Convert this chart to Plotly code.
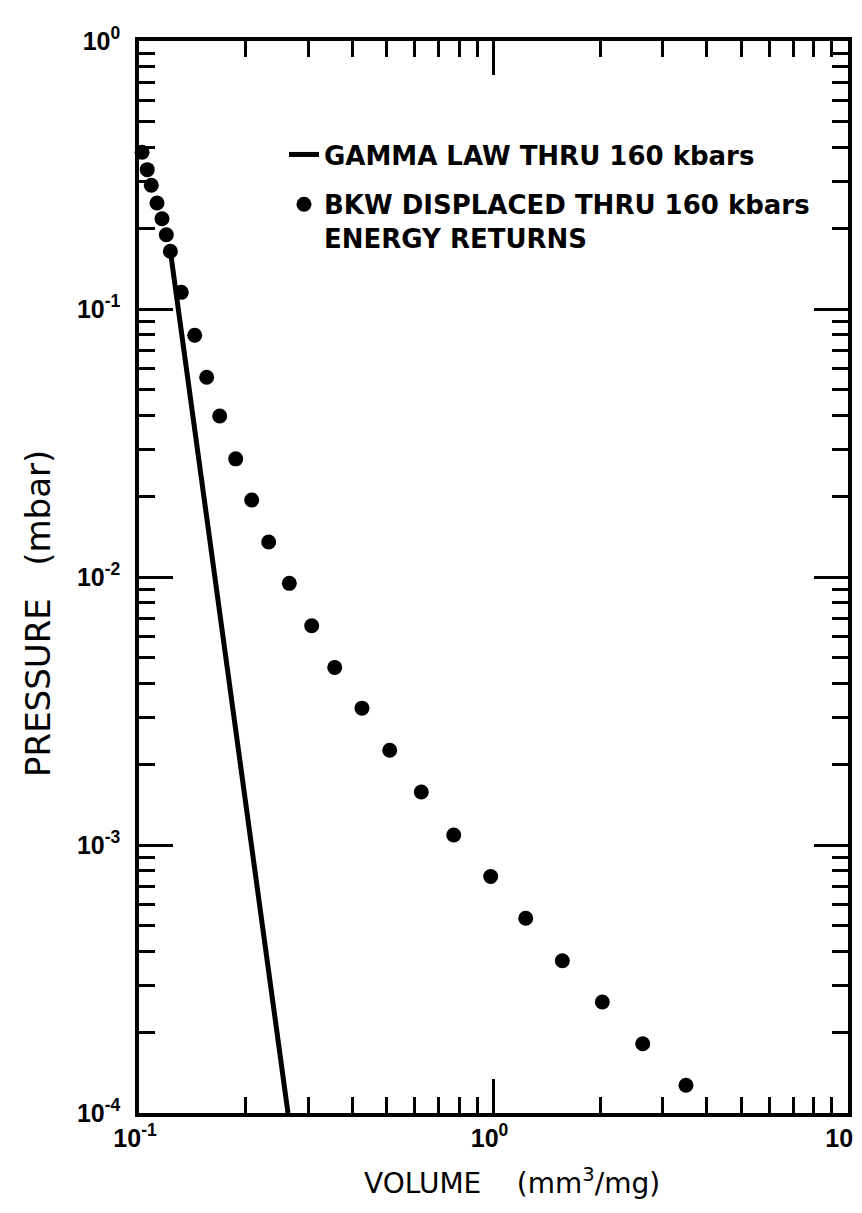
import plotly.graph_objects as go

# Gamma law line (volume mm^3/mg, pressure mbar)
gamma_volume = [0.1226, 0.1763, 0.2632]
gamma_pressure = [0.1646, 0.00499, 1.0e-4]

# BKW displaced, energy returns (points)
bkw_volume = [0.1020, 0.1055, 0.1083, 0.1124, 0.1161, 0.1194, 0.1226, 0.1316,
              0.1436, 0.1552, 0.1689, 0.1874, 0.2079, 0.2322, 0.2655, 0.3070,
              0.3565, 0.4256, 0.5096, 0.6256, 0.7723, 0.9820, 1.2328, 1.5637,
              2.0275, 2.636, 3.491]
bkw_pressure = [0.3843, 0.3311, 0.2894, 0.2486, 0.2172, 0.1893, 0.1642, 0.1154,
                0.0798, 0.0556, 0.0399, 0.0276, 0.01938, 0.01351, 0.00947, 0.00658,
                0.00460, 0.00324, 0.002257, 0.001576, 0.001090, 0.000763, 0.000533,
                0.000370, 0.0002596, 0.0001814, 0.0001269]

x_tickvals = [0.1, 1, 10]
x_ticktext = ["10<sup>-1</sup>", "10<sup>0</sup>", "10<sup>1</sup>"]
y_tickvals = [1e-4, 1e-3, 1e-2, 1e-1, 1]
y_ticktext = ["10<sup>-4</sup>", "10<sup>-3</sup>", "10<sup>-2</sup>", "10<sup>-1</sup>", "10<sup>0</sup>"]

x_title = "VOLUME&nbsp;&nbsp;&nbsp;&nbsp;(mm<sup>3</sup>/mg)"
y_title = "PRESSURE&nbsp;&nbsp;&nbsp;(mbar)"

x_minor = [m * 10.0 ** e for e in (-1, 0) for m in range(2, 10)]
y_minor = [m * 10.0 ** e for e in (-4, -3, -2, -1) for m in range(2, 10)]

TICK_FONT = "Liberation Sans, Arial, sans-serif"
TEXT_FONT = "DejaVu Sans, sans-serif"

fig = go.Figure()
fig.add_trace(go.Scatter(
    x=gamma_volume, y=gamma_pressure, mode="lines",
    line=dict(color="black", width=5),
    name="GAMMA LAW THRU 160 kbars", legendgroup="a",
))
fig.add_trace(go.Scatter(
    x=bkw_volume, y=bkw_pressure, mode="markers",
    marker=dict(color="black", size=15),
    name="BKW DISPLACED THRU 160 kbars<br>ENERGY RETURNS", legendgroup="b",
    cliponaxis=False,
))

axis_common = dict(
    type="log", showgrid=False, zeroline=False,
    showline=True, linecolor="black", linewidth=3.5,
    mirror="allticks", ticks="inside", ticklen=34, tickwidth=3,
    tickcolor="black",
    tickfont=dict(family=TICK_FONT, size=25, color="black", weight="bold"),
)

fig.update_xaxes(
    **axis_common, range=[-1, 1],
    tickmode="array", tickvals=x_tickvals, ticktext=x_ticktext,
    ticklabelshift=-4,
    minor=dict(ticks="inside", ticklen=16, tickwidth=3, tickcolor="black",
               tickmode="array", tickvals=x_minor, showgrid=False),
)
fig.update_yaxes(
    **axis_common, range=[-4, 0],
    tickmode="array", tickvals=y_tickvals, ticktext=y_ticktext,
    ticklabelstandoff=10,
    minor=dict(ticks="inside", ticklen=16, tickwidth=3, tickcolor="black",
               tickmode="array", tickvals=y_minor, showgrid=False),
)

# axis titles (placed as in the original figure)
fig.add_annotation(
    text=x_title, xref="paper", yref="paper", x=0.5254, y=-0.083,
    xanchor="center", yanchor="bottom", showarrow=False,
    font=dict(family=TEXT_FONT, size=28, color="black"),
)
fig.add_annotation(
    text=y_title, xref="paper", yref="paper", x=-0.1425, y=0.4664,
    xanchor="center", yanchor="middle", showarrow=False, textangle=-90,
    font=dict(family=TEXT_FONT, size=34, color="black"),
)

fig.update_layout(
    width=862, height=1213,
    margin=dict(l=131, r=22, t=33, b=108, autoexpand=False),
    paper_bgcolor="white", plot_bgcolor="white",
    showlegend=True,
    legend=dict(
        x=0.2045, y=0.916, xanchor="left", yanchor="top",
        bgcolor="rgba(0,0,0,0)", borderwidth=0,
        font=dict(family=TEXT_FONT, size=26, color="black", weight="bold"),
        traceorder="grouped", tracegroupgap=13, valign="top",
        itemwidth=30,
    ),
)

fig.write_html("out.html")
